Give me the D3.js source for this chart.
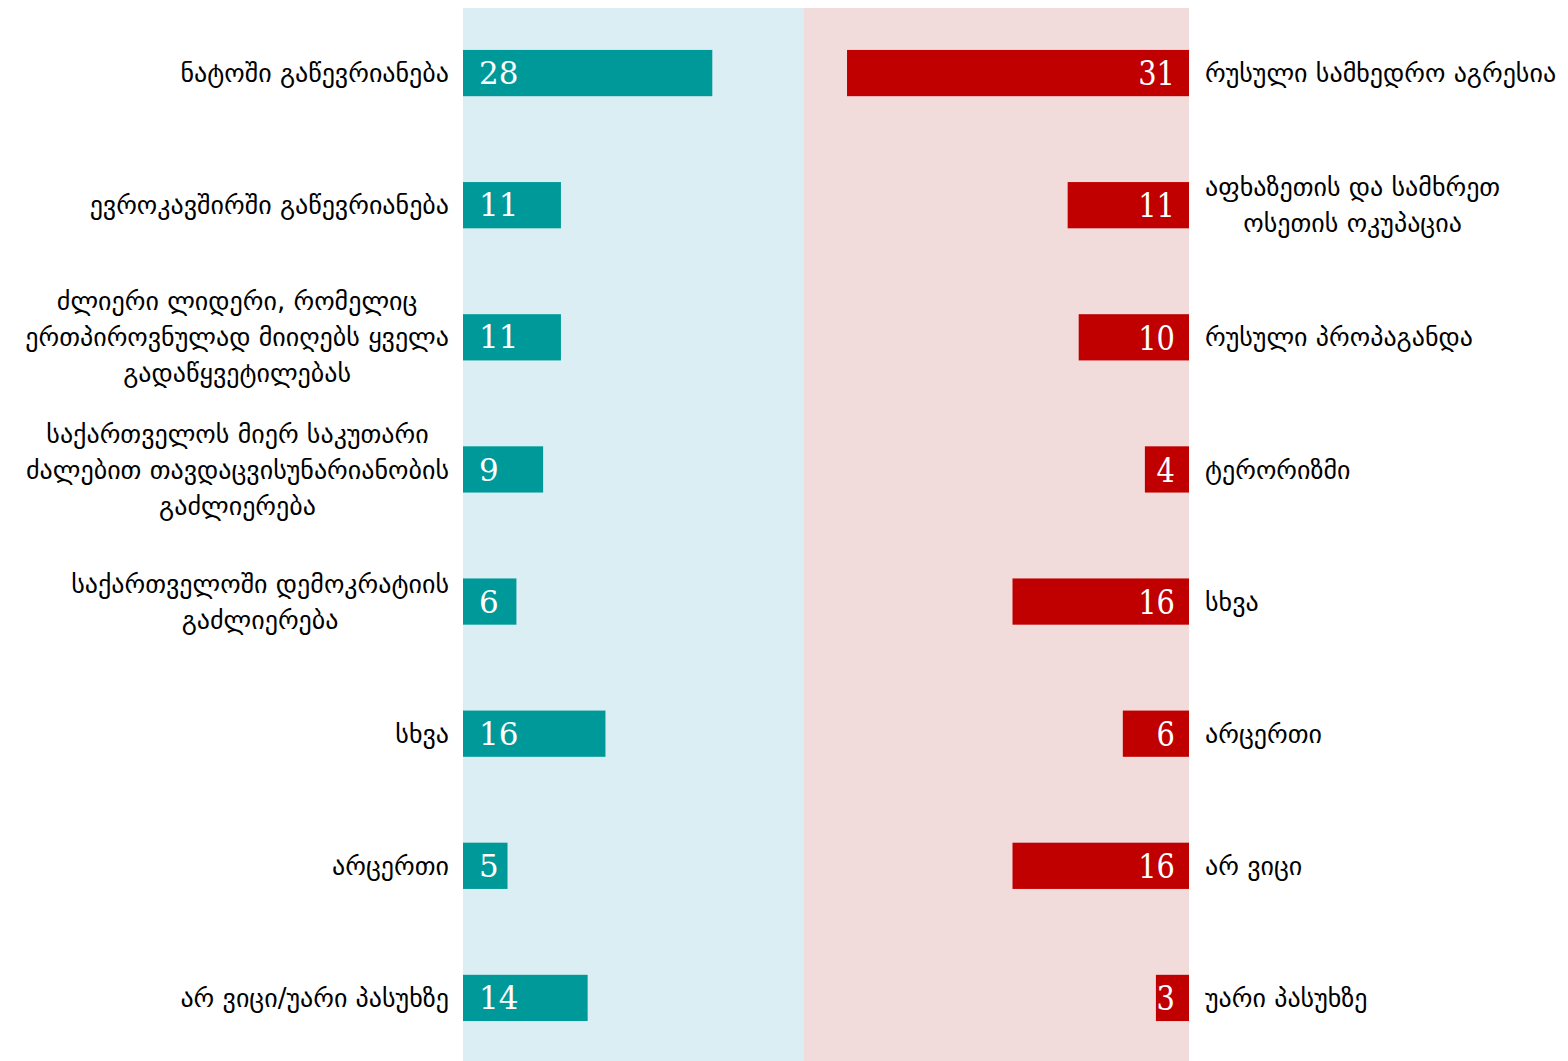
<!DOCTYPE html>
<html>
<head>
<meta charset="utf-8">
<script src="https://cdn.jsdelivr.net/npm/d3@7"></script>
<style>
  html, body { margin: 0; padding: 0; background: #fff; }
  svg { display: block; }
</style>
</head>
<body>
<svg id="chart" width="1568" height="1061"></svg>
<script>
// ---- data ----
const leftCategories = [
  ["ნატოში გაწევრიანება"],
  ["ევროკავშირში გაწევრიანება"],
  ["ძლიერი ლიდერი, რომელიც", "ერთპიროვნულად მიიღებს ყველა", "გადაწყვეტილებას"],
  ["საქართველოს მიერ საკუთარი", "ძალებით თავდაცვისუნარიანობის", "გაძლიერება"],
  ["საქართველოში დემოკრატიის", "გაძლიერება"],
  ["სხვა"],
  ["არცერთი"],
  ["არ ვიცი/უარი პასუხზე"]
];
const leftValues = [28, 11, 11, 9, 6, 16, 5, 14];

const rightCategories = [
  ["რუსული სამხედრო აგრესია"],
  ["აფხაზეთის და სამხრეთ", "ოსეთის ოკუპაცია"],
  ["რუსული პროპაგანდა"],
  ["ტერორიზმი"],
  ["სხვა"],
  ["არცერთი"],
  ["არ ვიცი"],
  ["უარი პასუხზე"]
];
const rightValues = [31, 11, 10, 4, 16, 6, 16, 3];

// ---- layout ----
const svg = d3.select("#chart");
const leftX0 = 463, midX = 804, rightX1 = 1189;
const panelTop = 8, panelBottom = 1061;

const y = d3.scaleBand()
  .domain(d3.range(leftValues.length))
  .range([7, 1064])
  .paddingInner(0.65)
  .paddingOuter(0.325);

const xLeft = d3.scaleLinear().domain([0, 38.3]).range([leftX0, midX]);
const xRight = d3.scaleLinear().domain([0, 34.9]).range([rightX1, midX]);

// panels
svg.append("rect").attr("x", leftX0).attr("y", panelTop)
  .attr("width", midX - leftX0).attr("height", panelBottom - panelTop)
  .attr("fill", "#daeef3");
svg.append("rect").attr("x", midX).attr("y", panelTop)
  .attr("width", rightX1 - midX).attr("height", panelBottom - panelTop)
  .attr("fill", "#f2dcdb");

// bars
svg.append("g").selectAll("rect").data(leftValues).join("rect")
  .attr("x", xLeft(0))
  .attr("y", (d, i) => y(i))
  .attr("width", d => xLeft(d) - xLeft(0))
  .attr("height", y.bandwidth())
  .attr("fill", "#009999");

svg.append("g").selectAll("rect").data(rightValues).join("rect")
  .attr("x", d => xRight(d))
  .attr("y", (d, i) => y(i))
  .attr("width", d => xRight(0) - xRight(d))
  .attr("height", y.bandwidth())
  .attr("fill", "#c00000");

// value labels
svg.append("g").selectAll("text").data(leftValues).join("text")
  .attr("x", xLeft(0) + 16)
  .attr("y", (d, i) => y(i) + y.bandwidth() / 2)
  .attr("dy", "0.36em")
  .attr("fill", "#fff")
  .style("font-family", "'DejaVu Serif', serif")
  .style("font-size", "31px")
  .text(d => d);

svg.append("g").selectAll("text").data(rightValues).join("text")
  .attr("transform", (d, i) =>
    `translate(${xRight(0) - 14},${y(i) + y.bandwidth() / 2}) scale(0.85,1)`)
  .attr("dy", "0.36em")
  .attr("text-anchor", "end")
  .attr("fill", "#fff")
  .style("font-family", "'DejaVu Serif', serif")
  .style("font-size", "34px")
  .text(d => d);

// category labels
const lineH = 36;
function drawLabels(cats, side) {
  const g = svg.append("g")
    .style("font-family", "'DejaVu Sans', sans-serif")
    .style("font-size", "26px")
    .attr("fill", "#000");
  cats.forEach((lines, i) => {
    const cy = y(i) + y.bandwidth() / 2;
    const t = g.append("text").attr("text-anchor", "middle");
    const n = lines.length;
    const spans = lines.map((ln, k) => t.append("tspan")
      .attr("y", cy + (k - (n - 1) / 2) * lineH)
      .attr("dy", "0.35em")
      .text(ln));
    const maxW = d3.max(spans, s => s.node().getComputedTextLength());
    const cx = side === "left" ? leftX0 - 14 - maxW / 2 : rightX1 + 16 + maxW / 2;
    spans.forEach(s => s.attr("x", cx));
  });
}
drawLabels(leftCategories, "left");
drawLabels(rightCategories, "right");
</script>
</body>
</html>
